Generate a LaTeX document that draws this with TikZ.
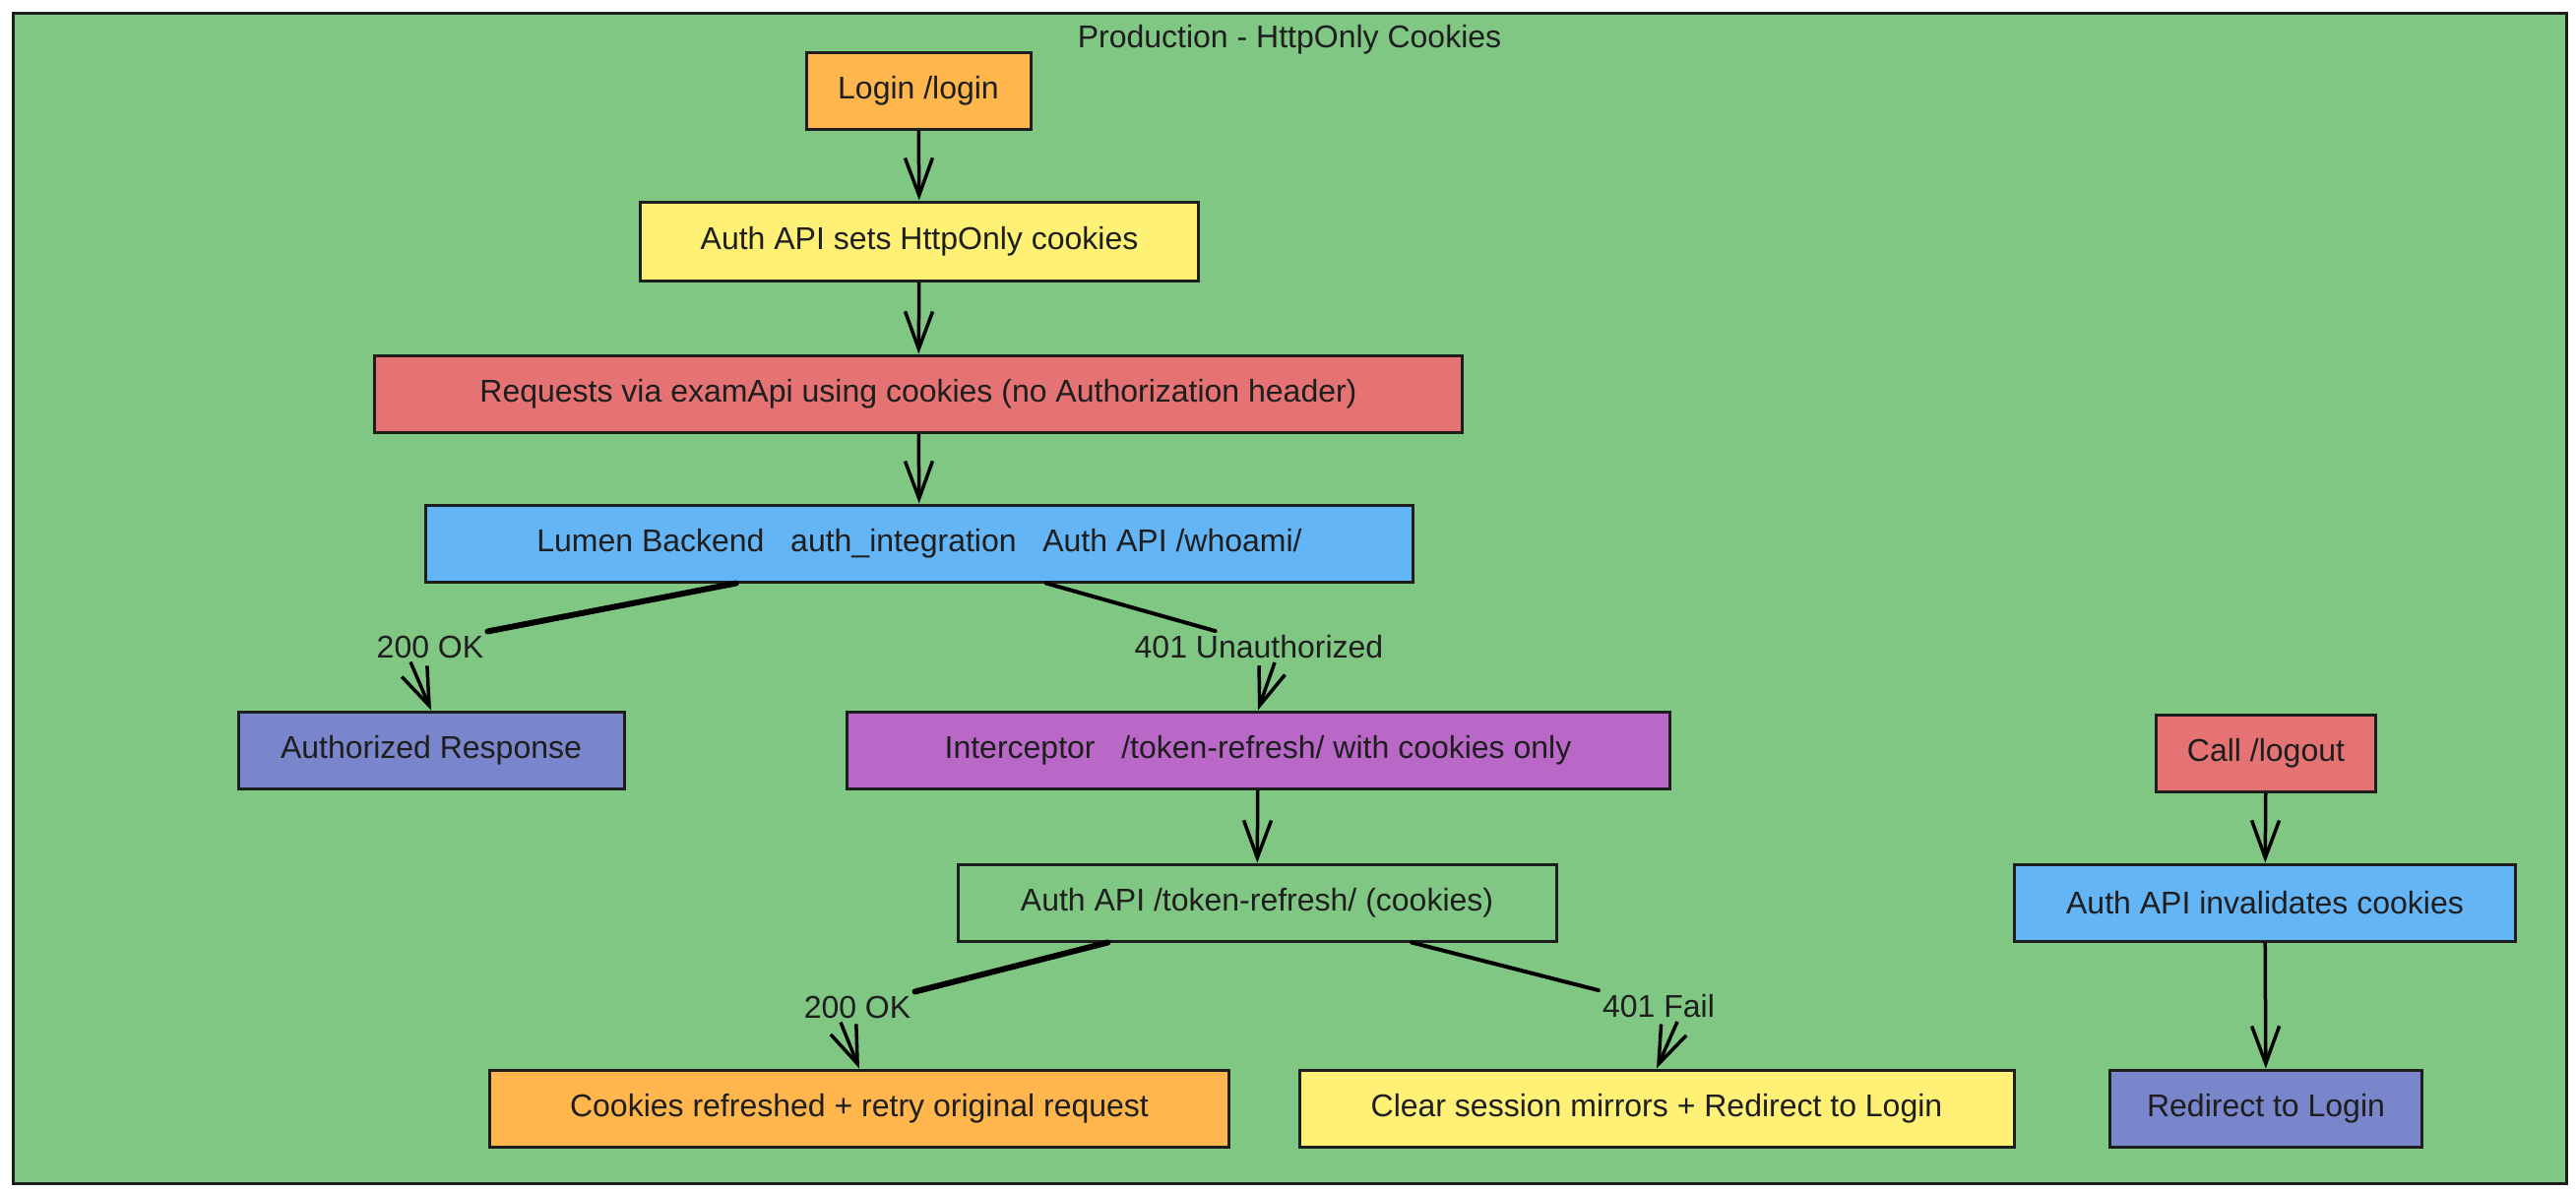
\documentclass[tikz,border=0pt]{standalone}
\usepackage{fontspec}
\setmainfont{Liberation Sans}
\usetikzlibrary{arrows.meta,calc}
\definecolor{bggreen}{HTML}{81C784}
\definecolor{cOrange}{HTML}{FFB74D}
\definecolor{cYellow}{HTML}{FFF176}
\definecolor{cRed}{HTML}{E57373}
\definecolor{cBlue}{HTML}{64B5F6}
\definecolor{cIndigo}{HTML}{7986CB}
\definecolor{cPurple}{HTML}{BA68C8}
\definecolor{ink}{HTML}{1E1E1E}
\begin{document}
\begin{tikzpicture}[x=1pt,y=-1pt,
  box/.style={draw=ink, line width=3pt, rectangle, minimum height=78pt, inner sep=0pt,
    text=ink, font=\fontsize{32}{38}\selectfont},
  lbl/.style={inner sep=4pt, text=ink, font=\fontsize{32}{38}\selectfont},
  flow/.style={draw=black, line width=3.5pt, -{Straight Barb[length=38pt,width=28pt]}},
  branch/.style={draw=black, line width=5pt, line cap=round}
]
\useasboundingbox (0,0) rectangle (2617,1210);
\fill[white] (0,0) rectangle (2617,1210);
\draw[fill=bggreen, draw=ink, line width=3pt] (13,13) rectangle (2607,1202);
\node[lbl] (title) at (1310,40) {Production - HttpOnly Cookies};

\node[box, fill=cOrange, minimum width=228pt] (login) at (933,92) {Login /login};
\node[box, fill=cYellow, minimum width=567pt, minimum height=80pt] (sets) at (934,245) {Auth API sets HttpOnly cookies};
\node[box, fill=cRed, minimum width=1105pt] (req) at (933,400) {Requests via examApi using cookies (no Authorization header)};
\node[box, fill=cBlue, minimum width=1003pt] (lumen) at (934,552) {Lumen Backend\ \ \ auth\_integration\ \ \ Auth API /whoami/};
\node[box, fill=cIndigo, minimum width=392pt] (authresp) at (438,762) {Authorized Response};
\node[box, fill=cPurple, minimum width=836pt] (inter) at (1278,762) {Interceptor\ \ \ /token-refresh/ with cookies only};
\node[box, minimum width=608pt] (refresh) at (1277,917) {Auth API /token-refresh/ (cookies)};
\node[box, fill=cOrange, minimum width=751pt] (cookies) at (873,1126) {Cookies refreshed + retry original request};
\node[box, fill=cYellow, minimum width=726pt] (clear) at (1683,1126) {Clear session mirrors + Redirect to Login};
\node[box, fill=cRed, minimum width=223pt] (logout) at (2302,765) {Call /logout};
\node[box, fill=cBlue, minimum width=509pt] (inval) at (2301,917) {Auth API invalidates cookies};
\node[box, fill=cIndigo, minimum width=317pt] (redir) at (2302,1126) {Redirect to Login};

\node[lbl] (ok1) at (437,657) {200 OK};
\node[lbl] (unauth) at (1279,657) {401 Unauthorized};
\node[lbl] (ok2) at (871,1023) {200 OK};
\node[lbl] (fail) at (1685,1022) {401 Fail};

\draw[flow] (login) -- (sets);
\draw[flow] (sets) -- (req);
\draw[flow] (req) -- (lumen);
\draw[flow] (inter) -- (refresh);
\draw[flow] (logout) -- (inval);
\draw[flow] (inval) -- (redir);

\draw[branch, line width=6pt] ($(lumen.south west)!0.315!(lumen.south east)$) -- (ok1.north east);
\draw[branch, line width=4pt] ($(lumen.south west)!0.628!(lumen.south east)$) -- ($(unauth.north west)!0.33!(unauth.north east)$);
\draw[branch, line width=6pt] ($(refresh.south west)!0.252!(refresh.south east)$) -- (ok2.north east);
\draw[branch, line width=4pt] ($(refresh.south west)!0.757!(refresh.south east)$) -- (fail.north west);

\draw[flow] ($(ok1.south)+(-20,0)$) -- (authresp.north);
\draw[flow] ($(unauth.south)+(16,0)$) -- (inter.north);
\draw[flow] ($(ok2.south)+(-17,0)$) -- (cookies.north);
\draw[flow] ($(fail.south)+(19,0)$) -- (clear.north);
\end{tikzpicture}
\end{document}
